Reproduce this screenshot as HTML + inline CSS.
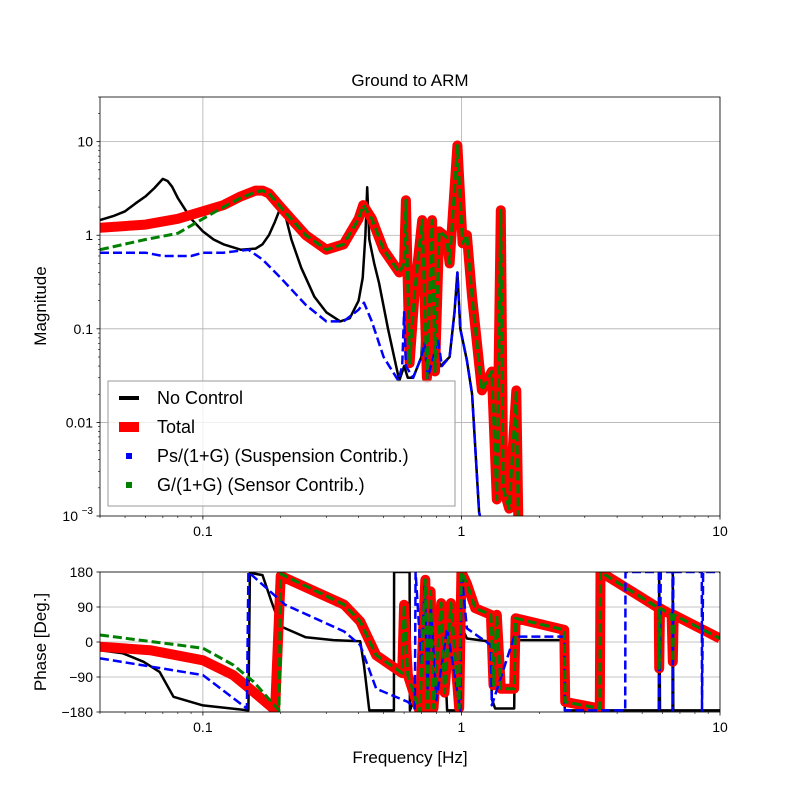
<!DOCTYPE html>
<html><head><meta charset="utf-8"><style>
body{margin:0;background:#fff}
svg text{font-family:"Liberation Sans",sans-serif;fill:#000}
</style></head><body>
<svg id="c" width="800" height="800" xmlns="http://www.w3.org/2000/svg">
<defs>
<clipPath id="cp1"><rect x="100" y="97" width="620" height="419"/></clipPath>
<clipPath id="cp2"><rect x="100" y="572" width="620" height="140"/></clipPath>
</defs>
<text x="410" y="86" font-size="17" text-anchor="middle">Ground to ARM</text>
<g id="top"></g>
<g id="bot"></g>
<text transform="translate(46,306) rotate(-90)" font-size="17" text-anchor="middle">Magnitude</text>
<text transform="translate(46,642) rotate(-90)" font-size="17" text-anchor="middle">Phase [Deg.]</text>
<text x="410" y="763" font-size="17" text-anchor="middle">Frequency [Hz]</text>
</svg>
<script>
// ---- magnitude data ----
const blackF=[0.04,0.045,0.05,0.055,0.06,0.065,0.07,0.073,0.076,0.08,0.09,0.1,0.11,0.12,0.14,0.16,0.17,0.18,0.19,0.2,0.205,0.21,0.22,0.24,0.27,0.3,0.34,0.37,0.4,0.415,0.425,0.432,0.44,0.46,0.48,0.52,0.575,0.6,0.62,0.65,0.7,0.72,0.73,0.76,0.8,0.81,0.83,0.9,0.94,0.965,0.99,1.05,1.1,1.17,1.2];
const blackM=[1.45,1.6,1.8,2.2,2.6,3.2,4.0,3.8,3.3,2.5,1.5,1.1,0.9,0.8,0.7,0.72,0.8,1.0,1.4,2.0,1.9,1.5,0.9,0.45,0.22,0.15,0.12,0.13,0.2,0.35,1.0,3.25,0.9,0.5,0.31,0.1,0.028,0.04,0.03,0.03,0.05,0.24,0.03,0.04,0.07,0.05,0.04,0.05,0.15,0.4,0.1,0.046,0.02,0.0011,0.0008];
const blueF=[0.04,0.06,0.07,0.09,0.1,0.12,0.15,0.17,0.2,0.25,0.3,0.35,0.4,0.42,0.45,0.5,0.57,0.59,0.6,0.61,0.65,0.7,0.72,0.74,0.78,0.81,0.84,0.9,0.94,0.965,0.99,1.05,1.1,1.17,1.2];
const blueM=[0.65,0.65,0.6,0.6,0.65,0.65,0.7,0.55,0.35,0.18,0.12,0.12,0.16,0.19,0.12,0.05,0.028,0.04,0.15,0.04,0.03,0.05,0.07,0.03,0.05,0.08,0.04,0.05,0.15,0.4,0.1,0.046,0.02,0.0011,0.0008];
const redF=[0.04,0.06,0.08,0.1,0.12,0.14,0.16,0.17,0.18,0.2,0.25,0.3,0.35,0.4,0.417,0.45,0.5,0.575,0.6,0.61,0.63,0.66,0.705,0.735,0.77,0.79,0.82,0.875,0.9,0.965,1.01,1.05,1.1,1.2,1.31,1.37,1.42,1.45,1.53,1.63,1.66];
const redM=[1.2,1.3,1.5,1.8,2.1,2.6,3.0,3.0,2.8,2.0,1.0,0.7,0.8,1.5,2.1,1.5,0.7,0.4,0.5,2.36,0.043,0.26,1.45,0.03,1.45,0.035,1.1,0.95,0.5,9.1,0.82,1.0,0.22,0.022,0.035,0.0015,1.85,0.002,0.0012,0.022,0.0008];
const greenF=[0.04,0.06,0.08,0.1,0.12,0.14,0.16,0.17,0.18,0.2,0.25,0.3,0.35,0.4,0.417,0.45,0.5,0.575,0.6,0.61,0.63,0.66,0.705,0.735,0.77,0.79,0.82,0.875,0.9,0.965,1.01,1.05,1.1,1.2,1.31,1.37,1.42,1.45,1.53,1.63,1.66];
const greenM=[0.7,0.9,1.05,1.5,2.0,2.5,2.9,3.0,2.8,2.0,1.0,0.7,0.8,1.5,2.1,1.5,0.7,0.4,0.5,2.36,0.043,0.26,1.45,0.03,1.45,0.035,1.1,0.95,0.5,9.1,0.82,1.0,0.22,0.022,0.035,0.0015,1.85,0.002,0.0012,0.022,0.0008];
// ---- phase data ----
const blackPF=[0.04,0.049,0.059,0.068,0.077,0.1,0.15,0.152,0.17,0.185,0.2,0.25,0.32,0.406,0.42,0.44,0.548,0.549,0.63,0.632,0.7,0.72,0.74,0.76,0.8,0.85,0.88,0.97,0.98,1.0,1.05,1.3,1.31,1.35,1.6,1.61,2.5,2.51,5.8,5.82,5.86,6.55,6.57,6.6,10];
const blackP=[-21,-29,-51,-77,-141,-163,-176,178,172,100,40,12,5,2,-60,-176,-176,180,180,-176,-100,150,-170,120,-160,60,-176,-176,180,40,9,1,-146,-171,-171,5,5,-176,-176,180,-176,-176,180,-176,-176];
const bluePF=[0.04,0.1,0.148,0.15,0.208,0.352,0.406,0.468,0.62,0.66,0.665,0.7,0.72,0.74,0.76,0.8,0.88,0.99,1.0,1.05,1.3,1.31,1.6,2.5,2.51,4.3,4.31,5.8,5.82,5.9,6.55,6.57,6.6,8.5,8.52,8.6,10];
const blueP=[-42,-85,-171,180,96,27,-8,-120,-154,-171,180,-60,150,-120,100,-150,35,-176,180,35,-8,-163,14,14,-176,-176,180,180,-180,180,180,-180,180,180,-180,180,180];
const redPF=[0.04,0.0625,0.1,0.131,0.157,0.187,0.19,0.2,0.352,0.406,0.468,0.59,0.6,0.62,0.69,0.725,0.74,0.76,0.78,0.835,0.86,0.91,0.98,1.0,1.05,1.13,1.3,1.33,1.37,1.42,1.6,1.62,2.5,2.52,3.43,3.45,5.8,5.82,5.86,6.5,6.57,6.62,10];
const redP=[-12,-21,-47,-85,-128,-171,-180,170,96,53,-34,-80,96,-85,-180,160,-170,130,-170,100,-130,100,-170,180,150,87,70,-111,70,-120,-120,61,31,-154,-171,180,87,-68,87,70,-51,70,9];
const greenPF=[0.04,0.1,0.131,0.157,0.197,0.2,0.352,0.406,0.468,0.59,0.6,0.62,0.69,0.725,0.74,0.76,0.78,0.835,0.86,0.91,0.98,1.0,1.05,1.13,1.3,1.33,1.37,1.42,1.6,1.62,2.5,2.52,3.43,3.45,5.8,5.82,5.86,6.5,6.57,6.62,10];
const greenP=[18,-16,-59,-102,-176,175,96,53,-34,-80,96,-85,-180,160,-170,130,-170,100,-130,100,-170,180,150,87,70,-111,70,-120,-120,61,31,-154,-171,180,87,-68,87,70,-51,70,9];
const magTicks=[10,1,0.1,0.01];
const magTickLabels=["10","1","0.1","0.01"];
const phTicks=[180,90,0,-90,-180];
const xTicks=[0.1,1,10];
const xTickLabels=["0.1","1","10"];

const NS="http://www.w3.org/2000/svg";
const L=100,R=720,T1=97,B1=516,T2=572,B2=712;
const xMin=Math.log10(0.04),xMax=1;
const X=f=>L+(Math.log10(f)-xMin)/(xMax-xMin)*(R-L);
const yMin=-3,yMax=Math.log10(30);
const Ym=v=>B1-(Math.log10(v)-yMin)/(yMax-yMin)*(B1-T1);
const Yp=v=>B2-(v+180)/360*(B2-T2);
function mk(tag,at,parent){const e=document.createElementNS(NS,tag);for(const k in at)e.setAttribute(k,at[k]);parent.appendChild(e);return e;}
const gTop=document.getElementById('top'),gBot=document.getElementById('bot');

function frame(g,T,B){
  xTicks.forEach(f=>{const l=mk('line',{x1:X(f),x2:X(f),y1:T,y2:B,stroke:'#b0b0b0','stroke-width':0.8},g);
    
    });
  for(let d=-2;d<=0;d++)for(let m=2;m<=9;m++){const f=m*Math.pow(10,d);if(f<0.04||f>10)continue;
    mk('line',{x1:X(f),x2:X(f),y1:B,y2:B+2,stroke:'#000','stroke-width':0.6},g);}
  xTicks.forEach(f=>mk('line',{x1:X(f),x2:X(f),y1:B,y2:B+3.5,stroke:'#000','stroke-width':0.8},g));
}
frame(gTop,T1,B1);frame(gBot,T2,B2);
magTicks.forEach((v,i)=>{const y=Ym(v);
  const l=mk('line',{x1:L,x2:R,y1:y,y2:y,stroke:'#b0b0b0','stroke-width':0.8},gTop);
  
  
  mk('line',{x1:L-3.5,x2:L,y1:y,y2:y,stroke:'#000','stroke-width':0.8},gTop);
  const t=mk('text',{x:L-7,y:y+5,'font-size':14,'text-anchor':'end'},gTop);t.textContent=magTickLabels[i];
  
  
});
for(let d=-3;d<=1;d++)for(let m=2;m<=9;m++){const v=m*Math.pow(10,d);if(v>30)continue;
  mk('line',{x1:L-2,x2:L,y1:Ym(v),y2:Ym(v),stroke:'#000','stroke-width':0.6},gTop);}
{const t=mk('text',{x:L-22,y:B1+5,'font-size':14,'text-anchor':'end'},gTop);t.textContent='10';
 const s=mk('text',{x:L-7,y:B1-2,'font-size':10,'text-anchor':'end'},gTop);s.textContent='−3';
 mk('line',{x1:L-3.5,x2:L,y1:B1,y2:B1,stroke:'#000','stroke-width':0.8},gTop);}
phTicks.forEach(v=>{const y=Yp(v);
  const l=mk('line',{x1:L,x2:R,y1:y,y2:y,stroke:'#b0b0b0','stroke-width':0.8},gBot);
  
  
  mk('line',{x1:L-3.5,x2:L,y1:y,y2:y,stroke:'#000','stroke-width':0.8},gBot);
  const t=mk('text',{x:L-7,y:y+5,'font-size':14,'text-anchor':'end'},gBot);t.textContent=v<0?'−'+(-v):String(v);
  
  
});
xTicks.forEach((f,i)=>{[[gTop,B1],[gBot,B2]].forEach(([g,B])=>{const t=mk('text',{x:X(f),y:B+20,'font-size':14,'text-anchor':'middle'},g);t.textContent=xTickLabels[i];
  
  });});

function series(g,fs,vs,Y,clip,st,name){
  const d=fs.map((f,i)=>(i?'L':'M')+X(f).toFixed(1)+','+Y(vs[i]).toFixed(1)).join('');
  const p=mk('path',Object.assign({d:d,fill:'none','clip-path':'url(#'+clip+')','stroke-linejoin':'round'},st),g);
  
  
}
const sBlack={stroke:'#000','stroke-width':2.5},sRed={stroke:'#f00','stroke-width':10},
 sBlue={stroke:'#00f','stroke-width':2.5,'stroke-dasharray':'9,4'},sGreen={stroke:'#008000','stroke-width':3,'stroke-dasharray':'9,4'};
series(gTop,blackF,blackM,Ym,'cp1',sBlack,'no-control-magnitude');
series(gTop,redF,redM,Ym,'cp1',sRed,'total-magnitude');
series(gTop,blueF,blueM,Ym,'cp1',sBlue,'suspension-magnitude');
series(gTop,greenF,greenM,Ym,'cp1',sGreen,'sensor-magnitude');
series(gBot,blackPF,blackP,Yp,'cp2',sBlack,'no-control-phase');
series(gBot,redPF,redP,Yp,'cp2',sRed,'total-phase');
series(gBot,bluePF,blueP,Yp,'cp2',sBlue,'suspension-phase');
series(gBot,greenPF,greenP,Yp,'cp2',sGreen,'sensor-phase');
mk('rect',{x:L,y:T1,width:R-L,height:B1-T1,fill:'none',stroke:'#000','stroke-width':0.8},gTop);
mk('rect',{x:L,y:T2,width:R-L,height:B2-T2,fill:'none',stroke:'#000','stroke-width':0.8},gBot);
const lg=mk('g',{},gTop);


mk('rect',{x:108,y:381,width:347,height:125,fill:'rgba(255,255,255,0.8)',stroke:'#999','stroke-width':1,rx:0},lg);
const legNames=['No Control','Total','Ps/(1+G) (Suspension Contrib.)','G/(1+G) (Sensor Contrib.)'];
const legCols=['#000','#f00','#00f','#008000'];
const legH=[4,10,6,6],legW=[20,20,6,6];
legNames.forEach((n,i)=>{const y=398+i*29;
  const e=mk('g',{},lg);
  
  
  mk('rect',{x:129-legW[i]/2,y:y-legH[i]/2,width:legW[i],height:legH[i],fill:legCols[i]},e);
  const t=mk('text',{x:157,y:y+6,'font-size':18},e);t.textContent=n;});
</script>
</body></html>
